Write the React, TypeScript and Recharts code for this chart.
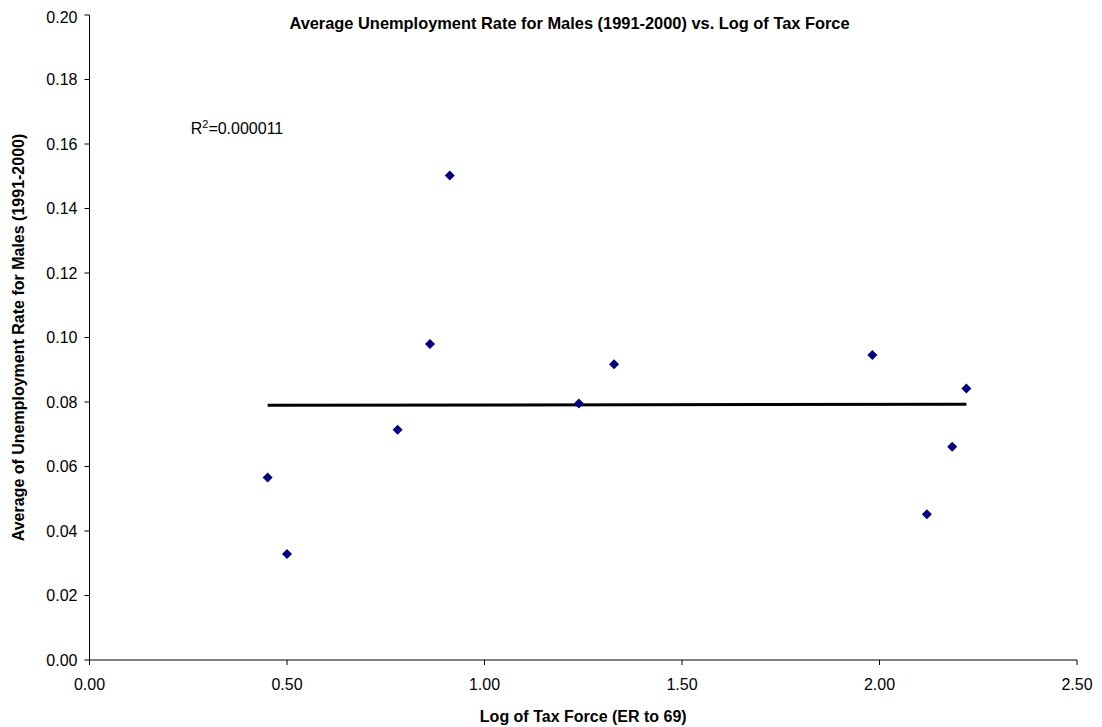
import { ScatterChart, Scatter, XAxis, YAxis } from 'recharts';

const taxForceLog = [0.451, 0.5, 0.78, 0.862, 0.912, 1.239, 1.328, 1.982, 2.12, 2.184, 2.22];
const unemploymentRate = [0.0566, 0.0329, 0.0714, 0.098, 0.1502, 0.0795, 0.0917, 0.0946, 0.0452, 0.0661, 0.0842];

const trendX = [0.451, 2.22];
const trendY = [0.079, 0.0793];

const xTicks = [0, 0.5, 1, 1.5, 2, 2.5];
const yTicks = [0, 0.02, 0.04, 0.06, 0.08, 0.1, 0.12, 0.14, 0.16, 0.18, 0.2];

const FONT = '"Liberation Sans", Arial, sans-serif';

const points = taxForceLog.map((x, i) => ({ x, y: unemploymentRate[i] }));
const trend = trendX.map((x, i) => ({ x, y: trendY[i] }));

function Diamond(props: { cx?: number; cy?: number }) {
  const { cx, cy } = props;
  if (typeof cx !== 'number' || typeof cy !== 'number') return <g />;
  const s = 5;
  return (
    <polygon
      points={`${cx},${cy - s} ${cx + s},${cy} ${cx},${cy + s} ${cx - s},${cy}`}
      fill="#000080"
    />
  );
}

export default function App() {
  return (
    <div style={{ position: 'relative', width: 1094, height: 719, fontFamily: FONT }}>
      <ScatterChart width={1094} height={719} margin={{ top: 7, right: 25, bottom: 0, left: 0 }}>
        <XAxis
          type="number"
          dataKey="x"
          domain={[0, 2.5]}
          ticks={xTicks}
          tickFormatter={(v: number) => v.toFixed(2)}
          height={67}
          stroke="#000"
          tickSize={5}
          tickMargin={14}
          tick={{ fill: '#000', fontSize: 16, fontFamily: FONT }}
          label={{
            value: 'Log of Tax Force (ER to 69)',
            position: 'insideBottom',
            offset: 5,
            style: { fontWeight: 'bold', fontSize: 16, fill: '#000', fontFamily: FONT }
          }}
        />
        <YAxis
          type="number"
          dataKey="y"
          domain={[0, 0.2]}
          ticks={yTicks}
          tickFormatter={(v: number) => v.toFixed(2)}
          width={81.5}
          stroke="#000"
          tickSize={5}
          tickMargin={7}
          tick={{ fill: '#000', fontSize: 16, fontFamily: FONT }}
          label={{
            value: 'Average of Unemployment Rate for Males (1991-2000)',
            content: (p: any) => {
              const vb = p.viewBox || { x: 0, y: 0, width: 0, height: 0 };
              const cx = vb.x + 16;
              const cy = vb.y + vb.height / 2;
              return (
                <text
                  x={cx}
                  y={cy}
                  transform={`rotate(-90, ${cx}, ${cy})`}
                  textAnchor="middle"
                  fontWeight="bold"
                  fontSize={16}
                  fontFamily={FONT}
                  fill="#000"
                >
                  Average of Unemployment Rate for Males (1991-2000)
                </text>
              );
            }
          }}
        />
        <Scatter
          data={trend}
          line={{ stroke: '#000', strokeWidth: 3 }}
          shape={() => <g />}
          isAnimationActive={false}
        />
        <Scatter data={points} shape={Diamond} isAnimationActive={false} />
      </ScatterChart>
      <div
        style={{
          position: 'absolute',
          left: 561.5,
          top: 7.3,
          transform: 'translateX(-50%)',
          whiteSpace: 'nowrap',
          fontWeight: 'bold',
          fontSize: 16.4,
          lineHeight: '16px'
        }}
      >
        Average Unemployment Rate for Males (1991-2000) vs. Log of Tax Force
      </div>
      <div
        style={{
          position: 'absolute',
          left: 182.7,
          top: 112.5,
          whiteSpace: 'nowrap',
          fontSize: 16,
          lineHeight: '16px'
        }}
      >
        R<span style={{ fontSize: 11, position: 'relative', top: -6 }}>2</span>=0.000011
      </div>
    </div>
  );
}
